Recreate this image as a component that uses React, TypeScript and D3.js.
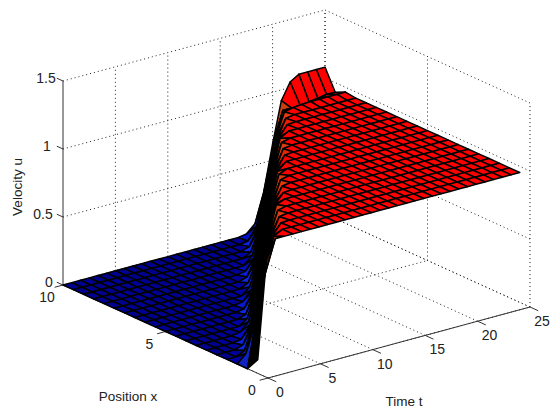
import React from 'react';
import * as d3 from 'd3';

const positions = [0.5, 1, 1.5, 2, 2.5, 3, 3.5, 4, 4.5, 5, 5.5, 6, 6.5, 7, 7.5, 8, 8.5, 9, 9.5, 10];
const times = [0, 0.83, 1.67, 2.5, 3.33, 4.17, 5, 5.83, 6.67, 7.5, 8.33, 9.17, 10, 10.83, 11.67, 12.5,
  13.33, 14.17, 15, 15.83, 16.67, 17.5, 18.33, 19.17, 20, 20.83, 21.67, 22.5, 23.33, 24.17, 25];

// one row per time, one column per position
const velocity = [
  [.1, 0, 0, 0, 0, 0, 0, 0, 0, 0, 0, 0, 0, 0, 0, 0, 0, 0, 0, 0],
  [.82, .34, .06, 0, 0, 0, 0, 0, 0, 0, 0, 0, 0, 0, 0, 0, 0, 0, 0, 0],
  [.955, .66, .27, .03, 0, 0, 0, 0, 0, 0, 0, 0, 0, 0, 0, 0, 0, 0, 0, 0],
  [.955, .92, .59, .2, .02, 0, 0, 0, 0, 0, 0, 0, 0, 0, 0, 0, 0, 0, 0, 0],
  [.955, .955, .87, .52, .15, .01, 0, 0, 0, 0, 0, 0, 0, 0, 0, 0, 0, 0, 0, 0],
  [.955, .955, .95, .81, .44, .1, .01, 0, 0, 0, 0, 0, 0, 0, 0, 0, 0, 0, 0, 0],
  [.955, .955, .955, .945, .75, .36, .07, 0, 0, 0, 0, 0, 0, 0, 0, 0, 0, 0, 0, 0],
  [.955, .955, .955, .955, .94, .69, .29, .04, 0, 0, 0, 0, 0, 0, 0, 0, 0, 0, 0, 0],
  [.955, .955, .955, .955, .955, .93, .61, .22, .02, 0, 0, 0, 0, 0, 0, 0, 0, 0, 0, 0],
  [.955, .955, .955, .955, .955, .955, .88, .54, .17, .01, 0, 0, 0, 0, 0, 0, 0, 0, 0, 0],
  [.955, .955, .955, .955, .955, .955, .95, .83, .47, .12, .01, 0, 0, 0, 0, 0, 0, 0, 0, 0],
  [.955, .955, .955, .955, .955, .955, .955, .945, .77, .39, .08, 0, 0, 0, 0, 0, 0, 0, 0, 0],
  [.955, .955, .955, .955, .955, .955, .955, .955, .94, .71, .31, .05, 0, 0, 0, 0, 0, 0, 0, 0],
  [.955, .955, .955, .955, .955, .955, .955, .955, .955, .93, .64, .24, .03, 0, 0, 0, 0, 0, 0, 0],
  [.955, .955, .955, .955, .955, .955, .955, .955, .955, .955, .9, .56, .18, .02, 0, 0, 0, 0, 0, 0],
  [.955, .955, .955, .955, .955, .955, .955, .955, .955, .955, .955, .85, .5, .14, .01, 0, 0, 0, 0, 0],
  [.955, .955, .955, .955, .955, .955, .955, .955, .955, .955, .955, .95, .79, .42, .09, 0, 0, 0, 0, 0],
  [.955, .955, .955, .955, .955, .955, .955, .955, .955, .955, .955, .955, .945, .73, .34, .06, 0, 0, 0, 0],
  [.955, .955, .955, .955, .955, .955, .955, .955, .955, .955, .955, .955, .955, .94, .66, .26, .03, 0, 0, 0],
  [.955, .955, .955, .955, .955, .955, .955, .955, .955, .955, .955, .955, .955, .955, .92, .6, .2, .02, 0, 0],
  [.955, .955, .955, .955, .955, .955, .955, .955, .955, .955, .955, .955, .955, .955, .955, .87, .52, .15, .01, 0],
  [.955, .955, .955, .955, .955, .955, .955, .955, .955, .955, .955, .955, .955, .955, .955, .95, .81, .45, .1, .01],
  [.955, .955, .955, .955, .955, .955, .955, .955, .955, .955, .955, .955, .955, .955, .955, .955, .945, .76, .37, .07],
  [.955, .955, .955, .955, .955, .955, .955, .955, .955, .955, .955, .955, .955, .955, .955, .955, .955, .94, .69, .29],
  [.955, .955, .955, .955, .955, .955, .955, .955, .955, .955, .955, .955, .955, .955, .955, .955, .955, .955, .9, .62],
  [.955, .955, .955, .955, .955, .955, .955, .955, .955, .955, .955, .955, .955, .955, .955, .955, .955, .96, .9, .92],
  [.955, .955, .955, .955, .955, .955, .955, .955, .955, .955, .955, .955, .955, .955, .955, .955, .955, .965, .9, 1.04],
  [.955, .955, .955, .955, .955, .955, .955, .955, .955, .955, .955, .955, .955, .955, .955, .955, .955, .965, .91, 1.08],
  [.955, .955, .955, .955, .955, .955, .955, .955, .955, .955, .955, .955, .955, .955, .955, .955, .955, .965, .92, 1.08],
  [.955, .955, .955, .955, .955, .955, .955, .955, .955, .955, .955, .955, .955, .955, .955, .955, .955, .965, .93, 1.08],
  [.955, .955, .955, .955, .955, .955, .955, .955, .955, .955, .955, .955, .955, .955, .955, .955, .955, .965, .93, 1.08],
];

const tTicks = [0, 5, 10, 15, 20, 25];
const xTicks = [0, 5, 10];
const zTicks = [0, 0.5, 1, 1.5];

// oblique axes: each data axis moves the point on screen by its own scale
const ORIGIN = [268, 378];
const tToX = d3.scaleLinear().domain([0, 25]).range([0, 262]);
const tToY = d3.scaleLinear().domain([0, 25]).range([0, -71]);
const xToX = d3.scaleLinear().domain([0, 10]).range([0, -205]);
const xToY = d3.scaleLinear().domain([0, 10]).range([0, -93]);
const zToY = d3.scaleLinear().domain([0, 1.5]).range([0, -204]);

type P = [number, number];
const project = (x: number, t: number, z: number): P => [
  ORIGIN[0] + tToX(t) + xToX(x),
  ORIGIN[1] + tToY(t) + xToY(x) + zToY(z),
];

// steep faces of the front go almost black under their edges
const color = d3.scaleLinear<string>()
  .domain([0, 0.015, 0.05, 0.16, 0.3, 0.62, 0.82, 0.9, 0.93])
  .range(['#000090', '#0000a8', '#0c28e8', '#0a1c90', '#000000', '#000000', '#c83c0a', '#dc3c08', '#ff0000'])
  .clamp(true);

const path = d3.line();

type Quad = { d: string; fill: string };
const quads: Quad[] = [];
// back to front: far corner is high x, high t
for (let i = times.length - 2; i >= 0; i--) {
  for (let j = positions.length - 2; j >= 0; j--) {
    const corners: [number, number][] = [[i, j], [i + 1, j], [i + 1, j + 1], [i, j + 1]];
    const pts = corners.map(([a, b]) => project(positions[b], times[a], velocity[a][b]));
    const mean = d3.mean(corners, ([a, b]) => velocity[a][b]) as number;
    quads.push({ d: path(pts) + 'Z', fill: color(mean) });
  }
}

const dotted = { stroke: '#222', strokeWidth: 1, strokeDasharray: '1 3', fill: 'none' };
const axisStyle = { stroke: '#333', strokeWidth: 1, fill: 'none' };

function Seg({ a, b, s }: { a: P; b: P; s: any }) {
  return <line x1={a[0]} y1={a[1]} x2={b[0]} y2={b[1]} {...s} />;
}

export default function App() {
  const labelFont = { fontFamily: '"Liberation Sans", Arial, sans-serif', fill: '#222' };
  return (
    <svg width={552} height={414} style={{ position: 'absolute', left: 0, top: 0, background: '#fff' }}>
      <defs>
        <filter id="soft" x="-5%" y="-5%" width="110%" height="110%">
          <feGaussianBlur stdDeviation="0.35" />
        </filter>
      </defs>
      <g>
        {/* floor grid */}
        {tTicks.map(t => <Seg key={'ft' + t} a={project(0, t, 0)} b={project(10, t, 0)} s={dotted} />)}
        {xTicks.map(x => <Seg key={'fx' + x} a={project(x, 0, 0)} b={project(x, 25, 0)} s={dotted} />)}
        {/* wall at x = 10 */}
        {tTicks.map(t => <Seg key={'wt' + t} a={project(10, t, 0)} b={project(10, t, 1.5)} s={t === 0 ? axisStyle : dotted} />)}
        {zTicks.map(z => <Seg key={'wz' + z} a={project(10, 0, z)} b={project(10, 25, z)} s={dotted} />)}
        {/* wall at t = 25 */}
        {xTicks.map(x => <Seg key={'vx' + x} a={project(x, 25, 0)} b={project(x, 25, 1.5)} s={dotted} />)}
        {zTicks.map(z => <Seg key={'vz' + z} a={project(0, 25, z)} b={project(10, 25, z)} s={dotted} />)}
      </g>
      <g>
        <Seg a={project(10, 0, 0)} b={project(0, 0, 0)} s={axisStyle} />
        <Seg a={project(0, 0, 0)} b={project(0, 25, 0)} s={axisStyle} />
        {tTicks.map(t => <Seg key={'tt' + t} a={project(0, t, 0)} b={project(-0.4, t, 0)} s={axisStyle} />)}
        {xTicks.map(x => <Seg key={'tx' + x} a={project(x, 0, 0)} b={project(x, -0.8, 0)} s={axisStyle} />)}
        {zTicks.map(z => <Seg key={'tz' + z} a={project(10, 0, z)} b={project(10.3, 0, z)} s={axisStyle} />)}
      </g>
      <g stroke="#000" strokeWidth={1.5} strokeLinejoin="round" filter="url(#soft)">
        {quads.map((q, k) => <path key={k} d={q.d} fill={q.fill} />)}
      </g>
      <g {...labelFont} fontSize={14} textAnchor="middle" dominantBaseline="central">
        {zTicks.map((z, k) => <text key={z} x={[49, 43, 47, 46][k]} y={project(10, 0, z)[1] - 3}>{z}</text>)}
        {xTicks.map(x => {
          const p = project(x, 0, 0);
          return <text key={x} x={p[0] - 16} y={p[1] + 12}>{x}</text>;
        })}
        {tTicks.map(t => {
          const p = project(0, t, 0);
          return <text key={t} x={p[0] + 12} y={p[1] + 14}>{t}</text>;
        })}
      </g>
      <g {...labelFont} fontSize={13.5} textAnchor="middle" dominantBaseline="central">
        <text x={128} y={396}>Position x</text>
        <text x={404} y={401}>Time t</text>
        <text transform="translate(17,187) rotate(-90)">Velocity u</text>
      </g>
    </svg>
  );
}
